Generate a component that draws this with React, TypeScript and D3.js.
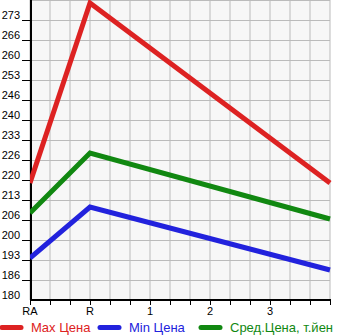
import React, { useEffect, useRef } from 'react';
import * as d3 from 'd3';

const categories = ["RA", "R", "1", "2", "3", ""];
const maxPrice = [219, 279, null, null, null, 219];
const minPrice = [194, 211, null, null, null, 190];
const avgPrice = [209, 229, null, null, null, 207];
const yTickLabels = ["180", "186", "193", "200", "206", "213", "220", "226", "233", "240", "246", "253", "260", "266", "273"];
const legendItems = ["Max Цена", "Min Цена", "Сред.Цена, т.йен"];

const App: React.FC = () => {
  const ref = useRef<SVGSVGElement | null>(null);

  useEffect(() => {
    if (!ref.current) return;
    document.body.style.margin = "0";
    const width = 345;
    const height = 335;
    const left = 30, right = 330, top = 0, bottom = 300;
    const font = "'Liberation Sans', Arial, sans-serif";

    const svg = d3.select(ref.current).attr("width", width).attr("height", height);
    svg.selectAll("*").remove();

    const x = d3.scalePoint<string>().domain(categories.map((c, i) => String(i))).range([left, right]);
    const y = d3.scaleLinear().domain([180, 280]).range([bottom, top]);

    svg.append("rect")
      .attr("x", left).attr("y", top)
      .attr("width", right - left).attr("height", bottom - top)
      .attr("fill", "#f7f7f7");

    // grid: 3 sub-lines per category step
    const sub = x.step() / 3;
    const vx = d3.range(0, (categories.length - 1) * 3 + 1).map(i => left + i * sub);
    const yStep = (280 - 180) / yTickLabels.length;
    const yVals = yTickLabels.map((_, i) => 180 + i * yStep);

    svg.append("g").selectAll("line").data(vx).enter().append("line")
      .attr("x1", d => d).attr("x2", d => d)
      .attr("y1", top).attr("y2", bottom)
      .attr("stroke", "#bbbbbb").attr("stroke-width", 1);
    svg.append("g").selectAll("line").data(yVals.concat([280])).enter().append("line")
      .attr("x1", left).attr("x2", right)
      .attr("y1", d => Math.round(y(d)) + 0.5).attr("y2", d => Math.round(y(d)) + 0.5)
      .attr("stroke", "#bbbbbb").attr("stroke-width", 1);

    // y ticks and labels
    svg.append("g").selectAll("line").data(yVals.slice(1)).enter().append("line")
      .attr("x1", 22).attr("x2", left)
      .attr("y1", d => Math.round(y(d)) + 0.5).attr("y2", d => Math.round(y(d)) + 0.5)
      .attr("stroke", "#000").attr("stroke-width", 1);
    svg.append("g").selectAll("text").data(yVals).enter().append("text")
      .attr("x", 20).attr("y", d => y(d) - 1)
      .attr("text-anchor", "end")
      .attr("font-family", font).attr("font-size", 11).attr("fill", "#000")
      .text((_, i) => yTickLabels[i]);

    // x ticks and labels
    svg.append("g").selectAll("line").data(vx).enter().append("line")
      .attr("x1", d => d + 0.5).attr("x2", d => d + 0.5)
      .attr("y1", bottom).attr("y2", bottom + 5)
      .attr("stroke", "#000").attr("stroke-width", 1);
    svg.append("g").selectAll("text").data(categories).enter().append("text")
      .attr("x", (_, i) => x(String(i)) as number)
      .attr("y", bottom + 15)
      .attr("text-anchor", "middle")
      .attr("font-family", font).attr("font-size", 11).attr("fill", "#000")
      .text(d => d);

    // axes
    svg.append("line").attr("x1", left + 1).attr("x2", left + 1).attr("y1", top).attr("y2", bottom + 1)
      .attr("stroke", "#000").attr("stroke-width", 2);
    svg.append("line").attr("x1", left).attr("x2", right + 1).attr("y1", bottom).attr("y2", bottom)
      .attr("stroke", "#000").attr("stroke-width", 2);

    const series = [
      { values: maxPrice, color: "#dd2222" },
      { values: minPrice, color: "#2222dd" },
      { values: avgPrice, color: "#118811" },
    ];

    const line = d3.line<[number, number]>().x(d => d[0]).y(d => d[1]);
    const clip = svg.append("clipPath").attr("id", "plotclip");
    clip.append("rect").attr("x", left).attr("y", top).attr("width", right - left + 2).attr("height", bottom - top);

    series.forEach(s => {
      const pts: [number, number][] = [];
      s.values.forEach((v, i) => {
        if (v !== null) pts.push([x(String(i)) as number, y(v)]);
      });
      svg.append("path")
        .attr("d", line(pts))
        .attr("fill", "none")
        .attr("stroke", s.color)
        .attr("stroke-width", 5)
        .attr("stroke-linejoin", "miter")
        .attr("clip-path", "url(#plotclip)");
    });

    // legend
    const legendX = [0, 98, 199];
    const lg = svg.append("g");
    legendItems.forEach((name, i) => {
      lg.append("line")
        .attr("x1", legendX[i] + 2).attr("x2", legendX[i] + 21)
        .attr("y1", 327.5).attr("y2", 327.5)
        .attr("stroke", series[i].color).attr("stroke-width", 5).attr("stroke-linecap", "round");
      lg.append("text")
        .attr("x", legendX[i] + 31).attr("y", 332)
        .attr("font-family", font).attr("font-size", 13)
        .attr("fill", series[i].color)
        .text(name);
    });
  }, []);

  return <svg ref={ref} style={{ display: "block" }}></svg>;
};

export default App;
